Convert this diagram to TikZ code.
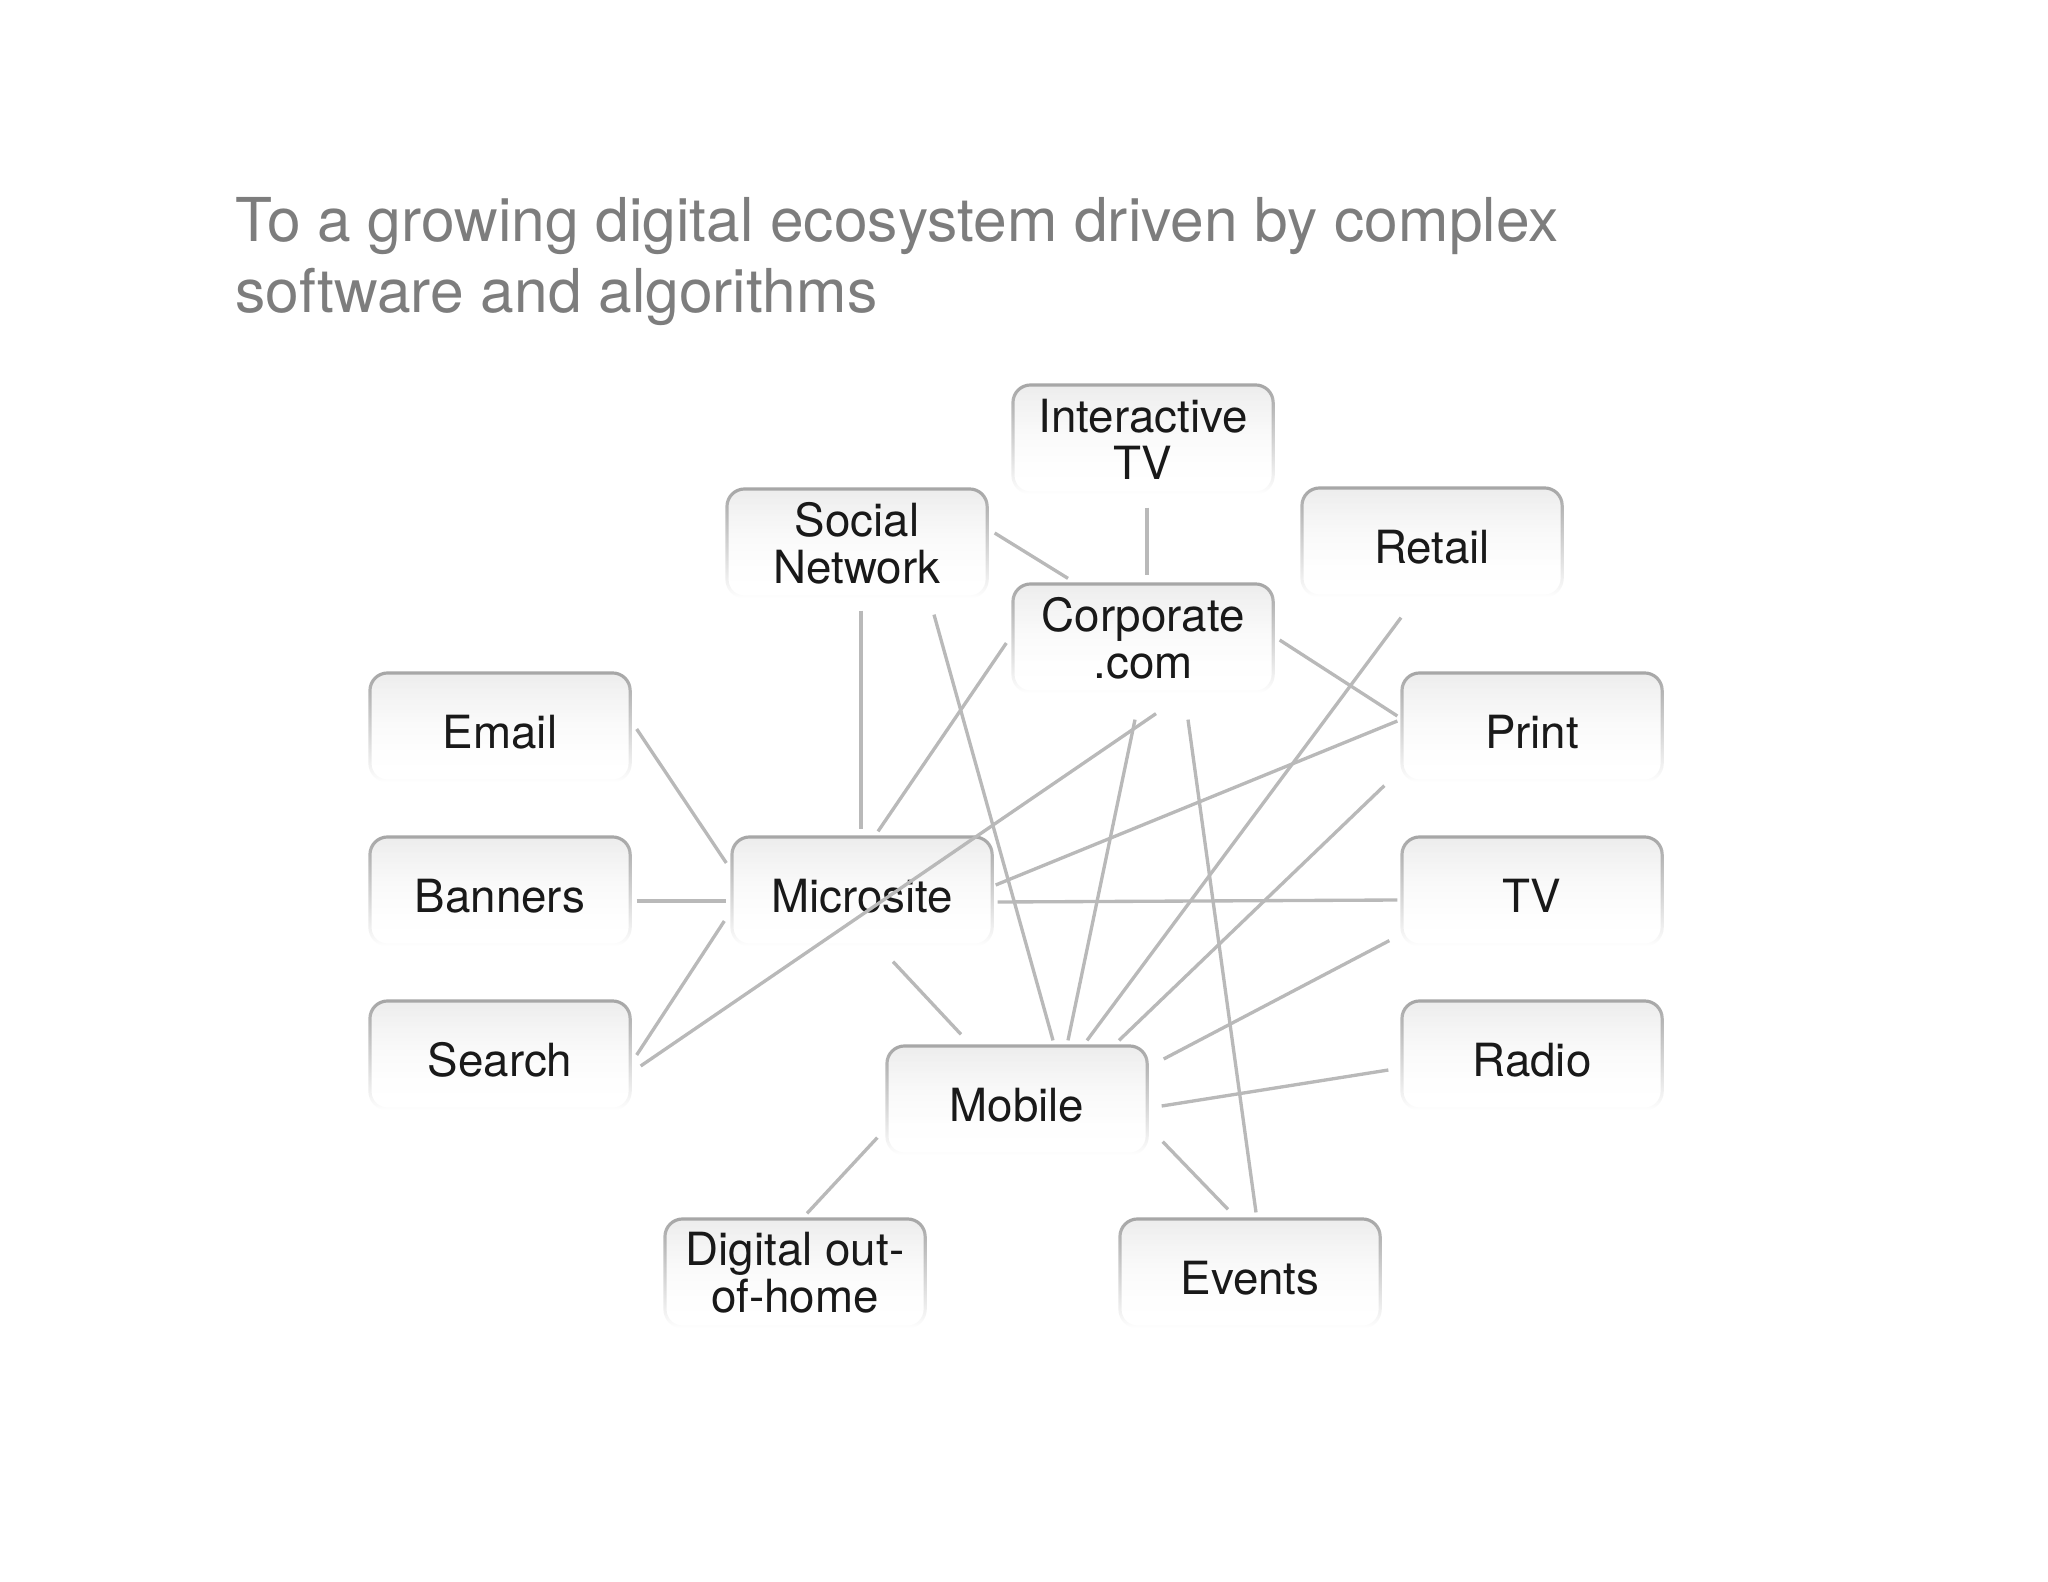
\documentclass[tikz,border=0pt]{standalone}
\usepackage{fontspec}
\setmainfont{TeX Gyre Heros}
\usetikzlibrary{fadings}

\definecolor{titlegray}{RGB}{125,125,125}
\tikzfading[name=boxfade, top color=transparent!0, middle color=transparent!20, bottom color=transparent!100]

\begin{document}
\begin{tikzpicture}[x=0.01cm, y=-0.01cm,
  channel/.style={rectangle, rounded corners=5pt, minimum width=2.6cm, minimum height=1.08cm,
    inner sep=2pt, draw=gray!70, line width=0.9pt, top color=gray!15, bottom color=white,
    path fading=boxfade, align=center, font=\fontsize{13}{13.4}\selectfont, text=black!90},
  oneline/.style={text height=12.5pt},
  link/.style={draw=gray!55, line width=0.95pt}]
  \useasboundingbox (0,0) rectangle (2048,1582);

  \node[anchor=base west, align=left, text=titlegray, font=\fontsize{17.2}{20.2}\selectfont]
    (title) at (223,313) {To a growing digital ecosystem driven by complex\\software and algorithms};

  % channels
  \node[channel] (itv) at (1143,439) {Interactive\\TV};
  \node[channel] (soc) at (857,543) {Social\\Network};
  \node[channel, oneline] (ret) at (1432,542) {Retail};
  \node[channel] (corp) at (1143,638) {Corporate\\.com};
  \node[channel, oneline] (email) at (500,727) {Email};
  \node[channel, oneline] (print) at (1532,727) {Print};
  \node[channel, oneline] (ban) at (500,891) {Banners};
  \node[channel, oneline] (micro) at (862,891) {Microsite};
  \node[channel, oneline] (tv) at (1532,891) {TV};
  \node[channel, oneline] (search) at (500,1055) {Search};
  \node[channel, oneline] (radio) at (1532,1055) {Radio};
  \node[channel, oneline] (mobile) at (1017,1100) {Mobile};
  \node[channel] (dooh) at (795,1273) {Digital out-\\of-home};
  \node[channel, oneline] (events) at (1250,1273) {Events};

  % links
  \draw[link] ([shift={(4,13)}]itv.south) -- ([shift={(4,-7)}]corp.north);
  \draw[link] ([shift={(6,-10)}]soc.east) -- ([shift={(-75,-4)}]corp.north);
  \draw[link] ([shift={(4,12)}]soc.south) -- ([shift={(-1,-6)}]micro.north);
  \draw[link] ([shift={(77,16)}]soc.south) -- ([shift={(36,-4)}]mobile.north);
  \draw[link] ([shift={(-5,5)}]corp.west) -- ([shift={(16,-4)}]micro.north);
  \draw[link] ([shift={(5,2)}]corp.east) -- ([shift={(-3,-11)}]print.west);
  \draw[link] ([shift={(13,20)}]corp.south) -- ([shift={(9,11)}]search.east);
  \draw[link] ([shift={(-8,26)}]corp.south) -- ([shift={(51,-4)}]mobile.north);
  \draw[link] ([shift={(45,26)}]corp.south) -- ([shift={(6,-5)}]events.north);
  \draw[link] ([shift={(-31,20)}]ret.south) -- ([shift={(70,-4)}]mobile.north);
  \draw[link] ([shift={(5,2)}]email.east) -- ([shift={(-4,-28)}]micro.west);
  \draw[link] ([shift={(5,10)}]ban.east) -- ([shift={(-4,10)}]micro.west);
  \draw[link] ([shift={(5,0)}]search.east) -- ([shift={(-6,30)}]micro.west);
  \draw[link] ([shift={(2,-6)}]micro.east) -- ([shift={(-3,-6)}]print.west);
  \draw[link] ([shift={(4,11)}]micro.east) -- ([shift={(-3,9)}]tv.west);
  \draw[link] ([shift={(31,15)}]micro.south) -- ([shift={(-56,-10)}]mobile.north);
  \draw[link] ([shift={(-16,3)}]print.south west) -- ([shift={(102,-4)}]mobile.north);
  \draw[link] ([shift={(-11,-6)}]tv.south west) -- ([shift={(15,-41)}]mobile.east);
  \draw[link] ([shift={(-12,15)}]radio.west) -- ([shift={(13,6)}]mobile.east);
  \draw[link] ([shift={(-8,-18)}]mobile.south west) -- ([shift={(12,-4)}]dooh.north);
  \draw[link] ([shift={(14,-14)}]mobile.south east) -- ([shift={(-22,-8)}]events.north);
\end{tikzpicture}
\end{document}
